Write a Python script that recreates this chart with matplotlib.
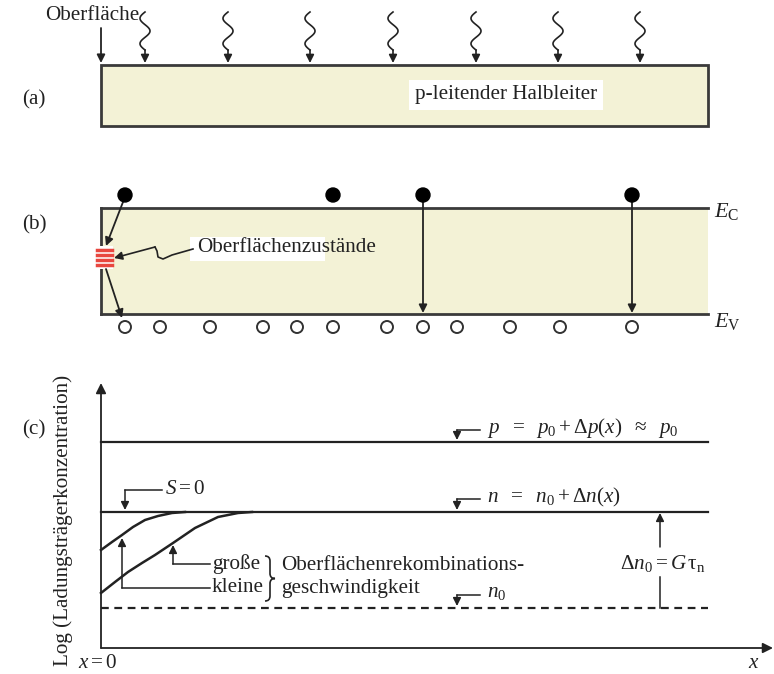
import numpy as np
import matplotlib.pyplot as plt
from matplotlib.patches import Rectangle, Circle, PathPatch
from matplotlib.path import Path

plt.rcParams['font.family'] = ['Liberation Serif', 'DejaVu Serif']
plt.rcParams['mathtext.fontset'] = 'custom'
plt.rcParams['mathtext.rm'] = 'Liberation Serif'
plt.rcParams['mathtext.it'] = 'Liberation Serif:italic'
plt.rcParams['mathtext.bf'] = 'Liberation Serif:bold'

INK = '#222222'
FILL = '#f3f2d6'
RED = '#e8473f'
FS = 15.2

# (a) Lichteinfall auf die Oberfläche
wave_x = [145, 228, 310, 393, 476, 558, 640]

# (b) Elektronen (oben) und Löcher (unten), direkte Rekombination
electron_x = [125, 333, 423, 632]
hole_x = [125, 160, 210, 263, 297, 333, 387, 423, 457, 510, 560, 632]
recomb_x = [423, 632]
state_y = [250, 255, 260, 265]

# (c) Ladungsträgerprofile
level_p = 442
level_n = 512
level_n0 = 608
grosse_x = [101, 115, 128, 142, 155, 173, 195, 218, 238, 252]
grosse_y = [593, 582, 572, 563, 555, 543, 528, 517, 513, 512]
kleine_x = [101, 112, 122, 133, 145, 158, 172, 185]
kleine_y = [550, 542, 535, 527, 520, 516, 513, 512]


def arrow(ax, x0, y0, x1, y1, lw=1.3, ms=12):
    ax.annotate('', xy=(x1, y1), xytext=(x0, y0),
                arrowprops=dict(arrowstyle='-|>', color=INK, lw=lw,
                                mutation_scale=ms, shrinkA=0, shrinkB=0))


fig = plt.figure(figsize=(7.74, 6.74), dpi=100)
ax = fig.add_axes([0, 0, 1, 1])
ax.set_xlim(0, 774)
ax.set_ylim(674, 0)
ax.axis('off')

# ---------- (a) ----------
ax.text(22, 100, '(a)', fontsize=FS, color=INK, va='center')
ax.add_patch(Rectangle((101, 65), 607, 61, facecolor=FILL, edgecolor='#3a3a3a', lw=2))
ax.text(45, 15, 'Oberfläche', fontsize=FS, color=INK, va='center')
arrow(ax, 101, 28, 101, 63)
for x0 in wave_x:
    t = np.linspace(0, 1, 80)
    ax.plot(x0 - 5 * np.sin(2 * np.pi * 1.5 * t), 12 + 38 * t, color=INK, lw=1.2)
    arrow(ax, x0, 50, x0, 63, lw=1.2)
ax.text(506, 95, 'p-leitender Halbleiter', fontsize=FS, color=INK, ha='center', va='center',
        bbox=dict(facecolor='white', edgecolor='none', pad=4))

# ---------- (b) ----------
ax.text(22, 225, '(b)', fontsize=FS, color=INK, va='center')
ax.add_patch(Rectangle((101, 208), 607, 106, facecolor=FILL, edgecolor='none'))
ax.plot([101, 101], [208, 314], color='#3a3a3a', lw=2)
ax.plot([101, 708], [208, 208], color='#3a3a3a', lw=2)
ax.plot([101, 708], [314, 314], color='#3a3a3a', lw=2)
ax.text(714, 212, r'$E_\mathrm{C}$', fontsize=16, color=INK, va='center')
ax.text(714, 322, r'$E_\mathrm{V}$', fontsize=16, color=INK, va='center')

for x0 in electron_x:
    ax.add_patch(Circle((x0, 195), 7, facecolor='black', edgecolor='black', zorder=4))
for x0 in hole_x:
    ax.add_patch(Circle((x0, 327), 6, facecolor='white', edgecolor='#333333', lw=1.4, zorder=4))
for x0 in recomb_x:
    arrow(ax, x0, 202, x0, 313)

# Oberflächenzustände am linken Rand
ax.add_patch(Rectangle((96, 246), 17, 23, facecolor='white', edgecolor='none', zorder=3))
for y0 in state_y:
    ax.plot([97, 112], [y0, y0], color=RED, lw=2.5, zorder=4)
arrow(ax, 123, 202, 106, 246)
arrow(ax, 106, 269, 122, 318)

ax.add_patch(Rectangle((190, 237), 135, 24, facecolor='white', edgecolor='none'))
ax.text(197, 248, 'Oberflächenzustände', fontsize=FS, color=INK, va='center')
ax.plot([193, 172, 163, 158, 157, 155], [249, 255, 259, 257, 251, 247], color=INK, lw=1.2)
arrow(ax, 155, 247, 114, 258, lw=1.2)

# ---------- (c) ----------
ax.text(22, 430, '(c)', fontsize=FS, color=INK, va='center')
arrow(ax, 101, 648, 101, 383, ms=15)
arrow(ax, 101, 648, 773, 648, ms=15)
ax.text(63, 520, 'Log (Ladungsträgerkonzentration)', fontsize=FS, color=INK,
        rotation=90, ha='center', va='center')
ax.text(78, 663, r'$x = 0$', fontsize=FS, color=INK, va='center')
ax.text(748, 663, r'$x$', fontsize=FS, color=INK, va='center')

ax.plot([101, 708], [level_p, level_p], color=INK, lw=1.6)
ax.plot([101, 708], [level_n, level_n], color=INK, lw=1.6)
ax.plot([101, 708], [level_n0, level_n0], color=INK, lw=1.6, ls=(0, (3.5, 2.5)))
ax.plot(grosse_x, grosse_y, color=INK, lw=1.8)
ax.plot(kleine_x, kleine_y, color=INK, lw=1.8)

# Beschriftungen mit Winkelpfeilen
for y_txt, y_line, label in [(428, level_p, r'$p\ \ =\ \ p_0 + \Delta p(x)\ \ \approx\ \ p_0$'),
                             (497, level_n, r'$n\ \ =\ \ n_0 + \Delta n(x)$'),
                             (593, level_n0, r'$n_0$')]:
    ax.plot([457, 480], [y_txt + 2, y_txt + 2], color=INK, lw=1.1)
    arrow(ax, 457, y_txt + 2, 457, y_line - 2, lw=1.1)
    ax.text(487, y_txt, label, fontsize=FS, color=INK, va='center')

ax.plot([125, 162], [490, 490], color=INK, lw=1.1)
arrow(ax, 125, 490, 125, level_n - 2, lw=1.1)
ax.text(165, 490, r'$S = 0$', fontsize=FS, color=INK, va='center')

# Pfeile zu den beiden Kurven
ax.plot([210, 173], [564, 564], color=INK, lw=1.1)
arrow(ax, 173, 564, 173, 545, lw=1.1)
ax.plot([210, 122], [588, 588], color=INK, lw=1.1)
arrow(ax, 122, 588, 122, 538, lw=1.1)
ax.text(212, 564, 'große', fontsize=FS, color=INK, va='center')
ax.text(212, 588, 'kleine', fontsize=FS, color=INK, va='center')

# geschweifte Klammer
bx, by0, by1 = 265, 556, 601
bm = (by0 + by1) / 2
brace = Path([(bx, by0), (bx + 5, by0), (bx + 5, by0 + 5),
              (bx + 5, bm - 5), (bx + 5, bm), (bx + 10, bm),
              (bx + 5, bm), (bx + 5, bm + 5),
              (bx + 5, by1 - 5), (bx + 5, by1), (bx, by1)],
             [Path.MOVETO, Path.CURVE3, Path.CURVE3,
              Path.LINETO, Path.CURVE3, Path.CURVE3,
              Path.CURVE3, Path.CURVE3,
              Path.LINETO, Path.CURVE3, Path.CURVE3])
ax.add_patch(PathPatch(brace, facecolor='none', edgecolor=INK, lw=1.2))

ax.text(281, 565, 'Oberflächenrekombinations-', fontsize=FS, color=INK, va='center')
ax.text(281, 588, 'geschwindigkeit', fontsize=FS, color=INK, va='center')

ax.plot([660, 660], [level_n0, 577], color=INK, lw=1.1)
arrow(ax, 660, 547, 660, level_n + 1, lw=1.1)
ax.text(620, 563, r'$\Delta n_0 = G\,\mathrm{\tau}_\mathrm{n}$', fontsize=FS, color=INK, va='center')

fig.savefig('out.png', dpi=100)
